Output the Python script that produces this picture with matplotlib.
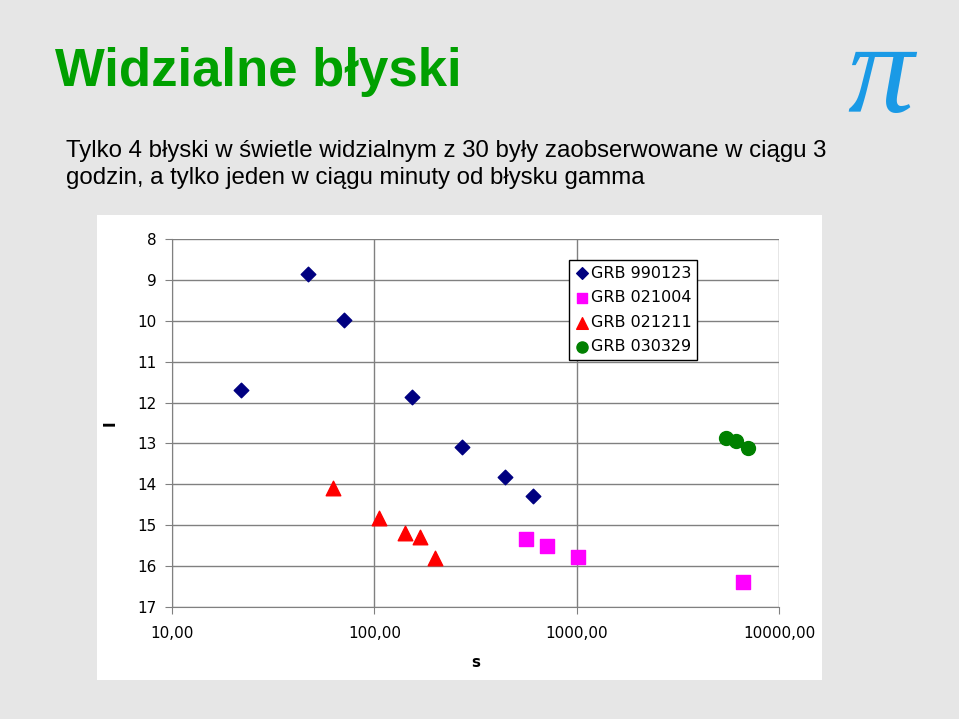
import matplotlib
matplotlib.use("Agg")
import matplotlib.pyplot as plt
from matplotlib.ticker import FixedLocator, FuncFormatter

s_990123 = [21.9, 47, 70.6, 153, 270, 440, 607]
m_990123 = [11.69, 8.86, 9.98, 11.86, 13.09, 13.82, 14.28]
s_021004 = [560, 711, 1012, 6610]
m_021004 = [15.33, 15.50, 15.78, 16.39]
s_021211 = [62.4, 106, 142, 168, 199]
m_021211 = [14.09, 14.82, 15.19, 15.29, 15.80]
s_030329 = [5445, 6100, 7060]
m_030329 = [12.87, 12.94, 13.11]
x_ticks = [10, 100, 1000, 10000]
y_ticks = [8, 9, 10, 11, 12, 13, 14, 15, 16, 17]

fig = plt.figure(figsize=(9.59, 7.19), dpi=100)
fig.patch.set_facecolor("#e6e6e6")
bg = fig.add_axes([97/959, 1-680/719, 725/959, 465/719], zorder=0)
bg.set_facecolor("white")
bg.set_xticks([]); bg.set_yticks([])
for sp in bg.spines.values():
    sp.set_visible(False)

fig.text(55/959, 1-72/719, "Widzialne błyski", color="#00a000", fontsize=38, fontweight="bold",
         va="center", ha="left", family="Liberation Sans")
fig.text(880/959, 1-80/719, "π", color="#1a9ae6", fontsize=95, va="center", ha="center",
         family="Liberation Serif", style="italic")
fig.text(66/959, 1-151/719, "Tylko 4 błyski w świetle widzialnym z 30 były zaobserwowane w ciągu 3", fontsize=17.3,
         va="center", family="Liberation Sans")
fig.text(66/959, 1-178/719, "godzin, a tylko jeden w ciągu minuty od błysku gamma", fontsize=17.3,
         va="center", family="Liberation Sans")

ax = fig.add_axes([172/959, 1-607/719, 607/959, 368/719], zorder=2)
ax.set_facecolor("white")
ax.scatter(s_990123, m_990123, marker="D", s=55, color="#000080", label="GRB 990123", zorder=3)
ax.scatter(s_021004, m_021004, marker="s", s=95, color="#ff00ff", label="GRB 021004", zorder=3)
ax.scatter(s_021211, m_021211, marker="^", s=110, color="#ff0000", label="GRB 021211", zorder=3)
ax.scatter(s_030329, m_030329, marker="o", s=100, color="#008000", label="GRB 030329", zorder=3)
ax.set_xscale("log")
ax.set_xlim(10, 10000)
ax.set_ylim(17, 8)
ax.xaxis.set_major_locator(FixedLocator(x_ticks))
ax.xaxis.set_minor_locator(FixedLocator([]))
ax.xaxis.set_major_formatter(FuncFormatter(lambda v, p: f"{v:.2f}".replace(".", ",")))
ax.yaxis.set_major_locator(FixedLocator(y_ticks))
ax.grid(True, color="#808080", linewidth=1)
ax.set_axisbelow(True)
for sp in ["top", "right"]:
    ax.spines[sp].set_visible(False)
ax.spines["left"].set_color("#808080")
ax.spines["bottom"].set_color("#808080")
ax.tick_params(labelsize=11, color="#808080", length=5)
ax.tick_params(axis="x", pad=9)
ax.tick_params(axis="y", pad=6)
ax.set_xlabel("s", fontsize=11, fontweight="bold", labelpad=10)
ax.set_ylabel("I", fontsize=11, fontweight="bold", labelpad=14)
leg = ax.legend(loc="upper left", bbox_to_anchor=(397/607, 1-21/368), fontsize=11.5, frameon=True,
                fancybox=False, edgecolor="black", handletextpad=0.1, borderpad=0.35, labelspacing=0.6,
                handlelength=0.9, markerscale=0.8, framealpha=1, borderaxespad=0)
leg.get_frame().set_linewidth(1)
fig.savefig("out.png", dpi=100, facecolor=fig.get_facecolor())
